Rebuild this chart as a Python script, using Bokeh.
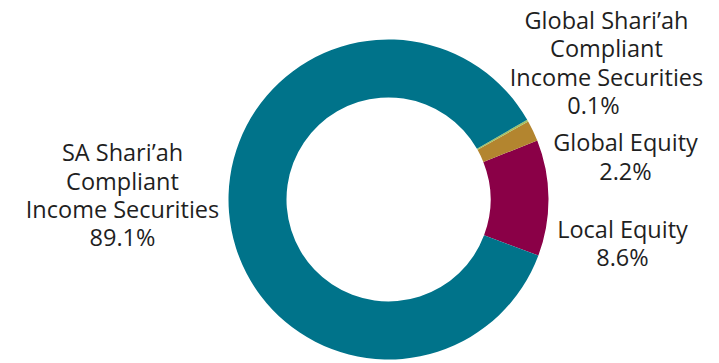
import math
from bokeh.plotting import figure
from bokeh.models import Range1d, ColumnDataSource
from bokeh.core.properties import value
from bokeh.embed import file_html
from bokeh.resources import INLINE

# Data
categories = ["Local Equity", "Global Equity", "Global Shari'ah Compliant Income Securities",
              "SA Shari'ah Compliant Income Securities"]
shares = [11.7, 2.1, 0.2, 86.0]          # drawn slice shares
label_pct = ["8.6%", "2.2%", "0.1%", "89.1%"]
colors = ["#8A0047", "#B3852F", "#A3C063", "#00738A"]

W, H = 719, 363
p = figure(width=W, height=H, output_backend="svg", toolbar_location=None,
           x_range=Range1d(0, W), y_range=Range1d(0, H), min_border=0)
p.axis.visible = False
p.grid.visible = False
p.outline_line_color = None
p.background_fill_color = "white"
p.border_fill_color = "white"

cx, cy = 388, H - 199
r_out, r_in = 160, 102
start0 = math.radians(-20.5)
tot = sum(shares)
starts, ends = [], []
a = start0
for s in shares:
    starts.append(a)
    a += s / tot * 2 * math.pi
    ends.append(a)

src = ColumnDataSource(dict(x=[cx] * 4, y=[cy] * 4, start=starts, end=ends, color=colors, cat=categories))
p.annular_wedge(x="x", y="y", inner_radius=r_in, outer_radius=r_out, start_angle="start",
                end_angle="end", color="color", line_color=None, source=src)

# labels (line by line)
lines_txt, lx, ly = [], [], []
def add(lines, xs, ys):
    for t, x, y in zip(lines, xs, ys):
        lines_txt.append(t); lx.append(x); ly.append(H - y)

add(["SA Shari\u2019ah", "Compliant", "Income Securities", label_pct[3]],
    [122, 122, 122, 122], [151, 180, 208, 236])
add(["Global Shari\u2019ah", "Compliant", "Income Securities", label_pct[2]],
    [606, 606, 606, 593], [19, 47, 76, 104])
add(["Global Equity", label_pct[1]], [625, 625], [141, 170])
add(["Local Equity", label_pct[0]], [622, 622], [228, 256])

p.text(x=lx, y=ly, text=lines_txt, text_align="center", text_baseline="middle",
       text_font=value("Open Sans"), text_font_size="23.5px", text_color="#1f1f1f")

open("out.html", "w").write(file_html(p, INLINE))
